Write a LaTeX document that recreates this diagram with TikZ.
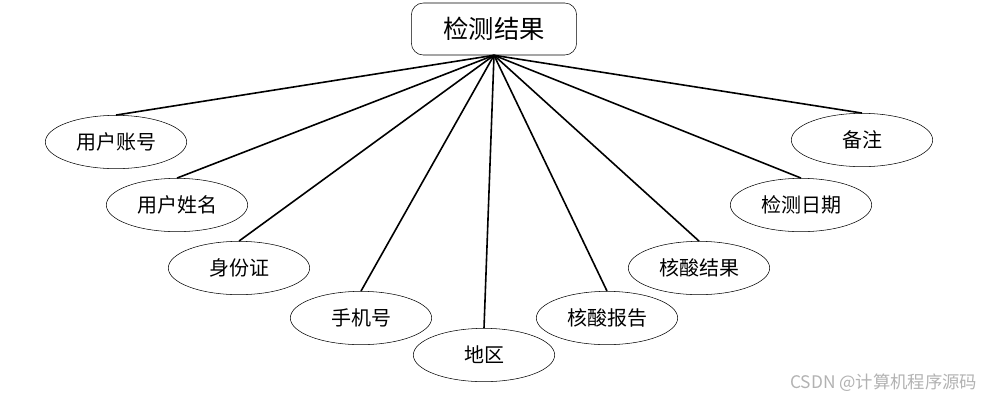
\documentclass[tikz,border=0pt]{standalone}
\usepackage{fontspec}
\setmainfont{Noto Sans CJK SC}
\usetikzlibrary{shapes.geometric}

\tikzset{
  attr/.style={draw, ellipse, thin, minimum width=106pt, minimum height=40pt, inner sep=0pt, font=\fontsize{15}{17}\selectfont},
  ent/.style={draw, rounded corners=9pt, thin, minimum width=124pt, minimum height=39pt, font=\fontsize{19}{21}\selectfont},
}

\begin{document}
\begin{tikzpicture}[x=0.75pt, y=-0.75pt]
\useasboundingbox (0,0) rectangle (985,401);

\node[ent] (jg) at (494,29) {检测结果};

\node[attr] (zh) at (116,142) {用户账号};
\node[attr] (xm) at (177,205) {用户姓名};
\node[attr] (sf) at (239,268) {身份证};
\node[attr] (sj) at (361,318) {手机号};
\node[attr] (dq) at (484,355) {地区};
\node[attr] (bg) at (607,318) {核酸报告};
\node[attr] (hs) at (699,268) {核酸结果};
\node[attr] (rq) at (801,205) {检测日期};
\node[attr] (bz) at (862,140) {备注};

\foreach \n in {zh,xm,sf,sj,dq,bg,hs,rq,bz}
  \draw[line width=1.2pt] (jg.south) -- (\n.north);

\node[text=black!30, font=\fontsize{13}{15}\selectfont, anchor=east] (wm) at (982,383) {CSDN @计算机程序源码};
\end{tikzpicture}
\end{document}
